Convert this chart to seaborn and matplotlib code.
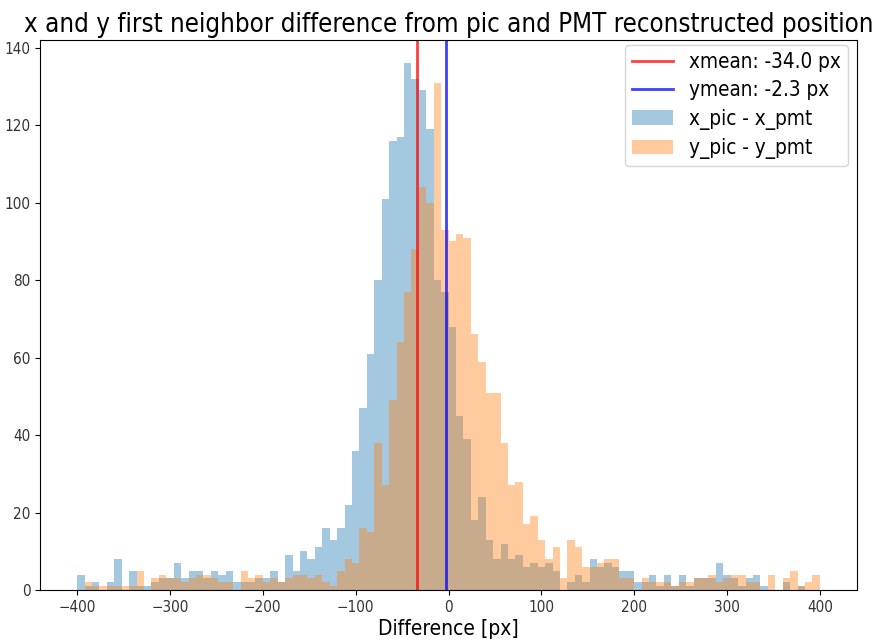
import numpy as np
import pandas as pd
import matplotlib
matplotlib.use("Agg")
import matplotlib.pyplot as plt
import seaborn as sns
from matplotlib.lines import Line2D
from matplotlib.patches import Patch

# ---- data ----
x_counts = [4, 1, 2, 0, 2, 8, 0, 5, 1, 1,
            2, 3, 3, 7, 3, 5, 5, 3, 5, 4,
            5, 2, 2, 2, 3, 3, 5, 2, 9, 5,
            10, 8, 11, 16, 13, 16, 22, 36, 47, 61,
            80, 101, 116, 117, 136, 132, 129, 119, 80, 77,
            68, 45, 39, 18, 24, 13, 8, 12, 8, 9,
            6, 7, 6, 7, 5, 0, 2, 4, 2, 8,
            6, 7, 6, 5, 5, 2, 2, 4, 1, 4,
            1, 4, 1, 3, 3, 3, 7, 4, 3, 1,
            3, 4, 1, 0, 0, 2, 0, 1, 0, 0]
y_counts = [0, 2, 1, 1, 1, 1, 1, 1, 5, 0,
            3, 4, 3, 3, 2, 3, 4, 4, 3, 2,
            2, 0, 5, 3, 4, 2, 3, 2, 3, 4,
            4, 3, 4, 2, 1, 5, 8, 7, 16, 15,
            38, 27, 49, 64, 77, 88, 104, 100, 131, 93,
            90, 92, 91, 66, 59, 51, 51, 38, 27, 28,
            17, 19, 13, 8, 11, 3, 13, 11, 6, 6,
            7, 8, 8, 3, 3, 0, 3, 2, 2, 2,
            1, 2, 2, 3, 3, 4, 2, 3, 4, 4,
            2, 2, 0, 4, 0, 3, 5, 1, 2, 4]
x_mean = -34.0
y_mean = -2.3
x_label = "x_pic - x_pmt"
y_label = "y_pic - y_pmt"
hist_range = (-400, 400)
bin_width = 8

n_bins = len(x_counts)
centers = hist_range[0] + bin_width * (np.arange(n_bins) + 0.5)
df_x = pd.DataFrame({"diff": centers, "count": x_counts})
df_y = pd.DataFrame({"diff": centers, "count": y_counts})

plt.rcParams["font.family"] = ["DejaVu Sans"]
plt.rcParams["font.stretch"] = "condensed"

fig = plt.figure(figsize=(8.81, 6.4), dpi=100)
ax = fig.add_axes([0.0454, 0.078, 0.9274, 0.8595])

sns.histplot(data=df_x, x="diff", weights="count", binwidth=bin_width,
             binrange=hist_range, color="tab:blue", alpha=0.4,
             linewidth=0, edgecolor="none", ax=ax)
sns.histplot(data=df_y, x="diff", weights="count", binwidth=bin_width,
             binrange=hist_range, color="tab:orange", alpha=0.4,
             linewidth=0, edgecolor="none", ax=ax)

ax.axvline(x_mean, color="red", alpha=0.75, lw=2)
ax.axvline(y_mean, color="blue", alpha=0.75, lw=2)

ax.set_ylim(0, 142)
ax.set_ylabel("")
ax.set_xlabel("Difference [px]", fontsize=15, labelpad=3)
ax.set_title("x and y first neighbor difference from pic and PMT reconstructed position",
             fontsize=18.5, pad=6)
ax.tick_params(labelsize=11, labelcolor="#333333")
ax.set_xticks(np.arange(-400, 401, 100))
ax.set_yticks(np.arange(0, 141, 20))

handles = [
    Line2D([0], [0], color="red", alpha=0.75, lw=2),
    Line2D([0], [0], color="blue", alpha=0.75, lw=2),
    Patch(facecolor="tab:blue", alpha=0.4),
    Patch(facecolor="tab:orange", alpha=0.4),
]
labels = [f"xmean: {x_mean:.1f} px", f"ymean: {y_mean:.1f} px", x_label, y_label]
ax.legend(handles, labels, loc="upper right", bbox_to_anchor=(0.989, 0.991),
          fontsize=14.9, labelspacing=0.4, borderpad=0.35, borderaxespad=0,
          handletextpad=0.75)

fig.savefig("out.png", dpi=100)
